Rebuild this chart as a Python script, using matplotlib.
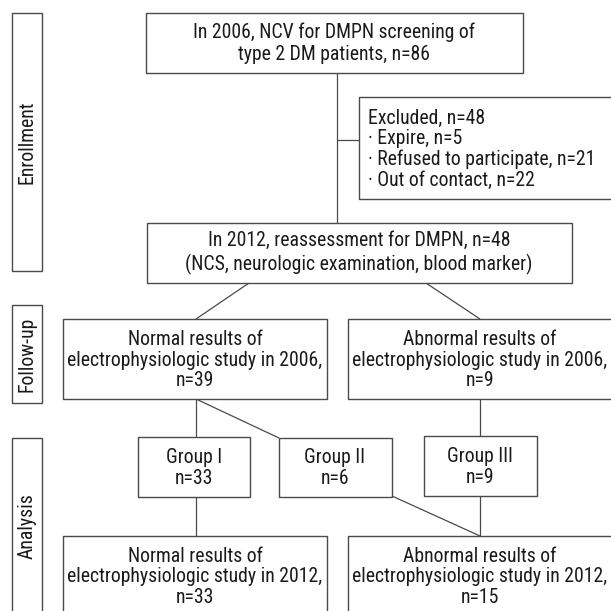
import matplotlib
matplotlib.use("Agg")
import matplotlib.pyplot as plt
from matplotlib import font_manager as fm
from matplotlib.patches import Rectangle

# ---- content ----
stage_labels = ["Enrollment", "Follow-up", "Analysis"]
box_texts = [
    "In 2006, NCV for DMPN screening of\ntype 2 DM patients, n=86",
    "Excluded, n=48\n\u00b7 Expire, n=5\n\u00b7 Refused to participate, n=21\n\u00b7 Out of contact, n=22",
    "In 2012, reassessment for DMPN, n=48\n(NCS, neurologic examination, blood marker)",
    "Normal results of\nelectrophysiologic study in 2006,\nn=39",
    "Abnormal results of\nelectrophysiologic study in 2006,\nn=9",
    "Group I\nn=33",
    "Group II\nn=6",
    "Group III\nn=9",
    "Normal results of\nelectrophysiologic study in 2012,\nn=33",
    "Abnormal results of\nelectrophysiologic study in 2012,\nn=15",
]

# ---- layout (pixel coords, y down) ----
# (x, y, w, h, label centre y)
stage_boxes = [(12, 13, 30, 258, 142), (12, 305, 30, 98, 354), (12, 438, 30, 200, 526)]
# (x, y, w, h, align, text centre x, text centre y, linespacing)
boxes = [
    (146, 13, 377, 60, "center", 334, 43, 1.2),
    (359, 97, 260, 102, "left", 368, 149, 1.1),
    (147, 223, 425, 60, "center", 359, 253, 1.2),
    (63, 319, 264, 80, "center", 195, 360, 1.1),
    (348, 319, 270, 80, "center", 480, 360, 1.1),
    (138, 437, 112, 60, "center", 194, 468, 1.15),
    (279, 438, 113, 59, "center", 335, 468, 1.15),
    (424, 436, 113, 60, "center", 480, 467, 1.15),
    (63, 536, 264, 90, "center", 195, 577, 1.1),
    (348, 536, 270, 90, "center", 480, 577, 1.1),
]
connectors = [
    [(337, 73), (337, 223)],
    [(337, 140), (359, 140)],
    [(249, 283), (196, 319)],
    [(426, 283), (480, 319)],
    [(196, 399), (196, 437)],
    [(196, 399), (279, 438)],
    [(480, 399), (480, 436)],
    [(196, 497), (196, 536)],
    [(480, 496), (480, 536)],
    [(392, 496), (480, 536)],
]

avail = {f.name for f in fm.fontManager.ttflist}
family = None
stretch = "normal"
for cand in ["Liberation Sans Narrow", "DejaVu Sans Condensed", "Roboto Condensed"]:
    if cand in avail:
        family = cand
        break
if family is None:
    family = "DejaVu Sans"
    stretch = "condensed"

fs = 14.2
lc = "#4a4a4a"
tc = "#1a1a1a"

fig = plt.figure(figsize=(6.11, 6.11), dpi=100)
ax = fig.add_axes([0, 0, 1, 1])
ax.set_xlim(0, 611)
ax.set_ylim(611, 0)
ax.axis("off")

for (x, y, w, h, cy), lab in zip(stage_boxes, stage_labels):
    ax.add_patch(Rectangle((x, y), w, h, fill=False, ec=lc, lw=1.0))
    ax.text(x + w / 2, cy, lab, rotation=90, ha="center", va="center", fontsize=fs,
            family=family, fontstretch=stretch, color=tc)

for seg in connectors:
    xs, ys = zip(*seg)
    ax.plot(xs, ys, color=lc, lw=0.9, solid_capstyle="butt")

for (x, y, w, h, al, cx, cy, ls), t in zip(boxes, box_texts):
    ax.add_patch(Rectangle((x, y), w, h, fill=True, fc="white", ec=lc, lw=1.0, zorder=2))
    ax.text(cx, cy, t, ha=al, va="center", fontsize=fs, family=family,
            fontstretch=stretch, linespacing=ls, multialignment=al, zorder=3, color=tc)

fig.savefig("out.png", dpi=100)
